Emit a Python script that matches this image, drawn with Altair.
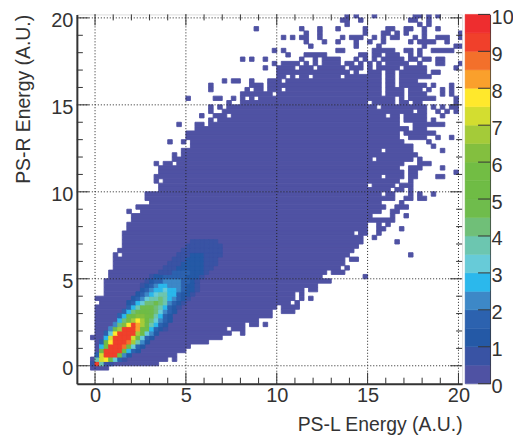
import altair as alt
import pandas as pd

alt.data_transformers.disable_max_rows()

BAND_COLORS = ["#4F52A3", "#3953A4", "#2459A6", "#2C62AF", "#3D88C7", "#2BB8EC", "#67CBD8", "#6CC6B0",
               "#70BF78", "#6FBC4C", "#6FBC45", "#72BD44", "#83BF3F", "#A4CB39", "#D3DD30", "#FFE82C",
               "#FAA02C", "#F3702B", "#F0402B", "#EE2D2F"]
BAND_EDGES = [0.5 * k for k in range(1, 20)]
X_MAJOR = [0, 5, 10, 15, 20]
Y_MAJOR = [0, 5, 10, 15, 20]
X_MINOR = [k for k in range(0, 21) if k % 5]
Y_MINOR = [k for k in range(0, 21) if k % 5]
BAR_TICKS = list(range(0, 11))
BIN = 0.25

# occupied histogram bins of the lowest band: row index -> inclusive column runs
sparse_top = {
    80: [(55,55),(57,57),(61,61),(70,71),(73,73),(75,75)],
    79: [(54,55),(58,58),(69,70),(73,73)],
    78: [(55,55),(71,71),(73,73)],
    77: [(35,35),(45,45),(49,49),(53,53),(59,59),(64,65),(68,69),(72,72),(75,75)],
    76: [(46,46),(49,49),(59,59),(63,64),(66,66),(68,68),(72,72),(80,80)],
    75: [(41,41),(43,43),(45,46),(49,49),(54,54),(56,58),(61,61),(63,63),(65,66),(70,70),(72,72),(75,77),(80,80)],
    74: [(46,46),(50,50),(53,53),(57,57),(60,60),(63,63),(69,69),(71,74),(77,77)],
    73: [(47,47),(57,57),(62,62),(72,72),(79,80)],
    72: [(39,39),(41,41),(53,54),(61,65),(68,69),(71,71),(74,78)],
    71: [(42,42),(46,50),(58,59),(61,62),(64,66),(69,69),(71,71)],
    70: [(32,32),(34,34),(37,37),(45,45),(48,48),(50,53),(57,57),(59,59),(61,61),(63,67),(69,70),(72,73),(75,76)],
    69: [(39,39),(41,44),(46,46),(48,48),(50,53),(55,56),(58,58),(60,60),(62,62),(64,68),(71,71),(75,76),(80,80)],
    68: [(37,37),(40,43),(45,47),(49,54),(56,58),(60,60),(62,66),(68,72),(79,79)],
    67: [(40,55),(57,57),(60,62),(64,65),(67,72),(74,75)],
    66: [(40,41),(43,43),(45,46),(48,53),(55,62),(64,65),(67,73)],
    65: [(28,28),(30,31),(34,34),(38,40),(42,62),(64,65),(67,70)],
}
sparse_upper = {
    64: [(25,25),(34,36),(38,62),(64,65),(67,72),(74,74),(78,78)],
    63: [(25,25),(33,33),(35,36),(38,40),(42,62),(64,67),(69,71),(73,73),(76,76),(78,78)],
    62: [(32,38),(40,62),(64,67),(69,72),(76,76),(78,78)],
    61: [(20,20),(26,27),(30,30),(32,32),(34,34),(36,65),(67,67),(69,74),(79,79)],
    60: [(29,29),(32,59),(61,65),(67,68),(70,71),(79,79)],
    59: [(25,25),(27,27),(29,61),(63,72),(74,74),(76,76),(78,79)],
    58: [(25,25),(28,69),(71,72),(75,75),(77,77),(79,79)],
    57: [(23,23),(26,28),(30,63),(65,66),(68,72),(76,76)],
    56: [(25,25),(27,66),(68,72),(74,74)],
    55: [(18,18),(22,23),(25,66),(70,76)],
    54: [(22,68),(70,72)],
    53: [(20,66),(68,74)],
    52: [(20,66),(69,72),(75,75),(78,78)],
    51: [(16,16),(19,19),(21,67),(73,73)],
    50: [(21,69),(74,74)],
    49: [(19,62),(64,69),(76,76)],
    48: [(17,17),(19,70)],
    47: [(17,60),(62,69),(71,71)],
    46: [(13,13),(15,16),(18,67),(71,73)],
    45: [(14,66),(69,71),(76,76)],
    44: [(14,67),(69,70),(79,79)],
    43: [(13,62),(64,67),(69,70),(75,76)],
    42: [(13,13),(15,66),(69,69)],
    41: [(14,59),(61,65),(67,69)],
    40: [(14,64),(66,67),(69,69)],
}
body_rows = {
    39: [(11,62),(64,65),(69,69),(71,71),(74,74)],
    38: [(11,65),(68,69),(71,72)],
    37: [(12,62),(67,67)],
    36: [(9,63),(66,68)],
    35: [(7,7),(10,62),(65,66)],
    34: [(8,60),(65,65),(68,68)],
    33: [(8,65)],
    32: [(7,59),(62,62),(64,64)],
    31: [(7,59),(62,63),(67,67)],
    30: [(6,56),(58,59),(62,62)],
    29: [(6,58),(61,61)],
    28: [(6,58),(66,66)],
    27: [(6,57)],
    26: [(5,56)],
    25: [(4,4),(6,55),(69,69)],
    24: [(4,54),(56,57)],
    23: [(4,54)],
    22: [(4,53),(55,55)],
    21: [(3,50),(52,54)],
    20: [(3,49),(59,59)],
}
foot_rows = {
    19: [(2,51)],
    18: [(2,48)],
    17: [(2,45),(47,48)],
    16: [(2,43),(45,45)],
    15: [(0,43),(45,45),(47,47)],
    14: [(1,42),(44,44)],
    13: [(0,39),(41,44)],
    12: [(0,38),(41,43)],
    11: [(0,38)],
    10: [(0,35)],
    9: [(0,32),(34,35),(37,37)],
    8: [(0,28),(30,32)],
    7: [(0,29),(32,32)],
    6: [(-1,27)],
    5: [(0,24)],
    4: [(0,20)],
    3: [(0,19)],
    2: [(0,17)],
    1: [(-1,15),(17,17)],
    0: [(-1,13)],
    -1: [(-1,2)],
}
# ridge: row index -> (first column, band index of consecutive columns)
ridge_core = {
    0: (-1, [1,18,7,1,1]),
    1: (0, [7,14,15,10,6,3,1]),
    2: (0, [3,14,18,18,18,10,4,2]),
    3: (1, [10,18,18,18,18,10,5,3,2]),
    4: (1, [5,11,18,18,18,17,10,6,3,2]),
    5: (1, [3,10,15,18,18,18,17,13,7,4,2]),
    6: (2, [5,14,18,18,18,18,14,10,6,3,2]),
    7: (2, [3,6,15,18,18,18,18,13,10,6,4,2]),
    8: (3, [4,9,13,18,18,18,16,10,9,5,3,2,1]),
    9: (4, [4,8,12,15,18,16,13,9,7,5,3,2]),
    10: (5, [5,8,11,13,15,13,10,8,6,4,3,2]),
    11: (5, [3,5,9,10,12,12,11,9,7,5,3,2]),
    12: (6, [3,5,8,9,10,10,9,8,6,4,3,2]),
    13: (7, [3,5,7,9,9,9,8,7,5,3,2,1]),
    14: (7, [2,3,5,6,8,8,9,8,7,4,3,2,1]),
}
ridge_tail = {
    15: (8, [2,3,4,6,7,7,8,7,5,4,3,2,1]),
    16: (9, [2,3,4,5,6,7,7,5,5,3,2,2,1]),
    17: (10, [2,3,4,5,5,6,5,5,4,3,2,2,1]),
    18: (10, [1,2,3,4,5,5,4,4,4,3,2,2,1]),
    19: (11, [1,2,3,3,4,4,4,4,3,3,2,1]),
    20: (12, [1,2,2,3,3,3,3,3,2,2,2,1]),
    21: (14, [1,1,1,3,3,3,3,2,2,2,1]),
    22: (15, [1,1,1,2,2,2,2,2,2,1,1]),
    23: (16, [1,1,1,2,2,2,2,2,1,1,1]),
    24: (17, [1,1,1,2,2,2,2,1,1,1]),
    25: (18, [1,1,1,2,2,2,1,1,1,1]),
    26: (19, [1,1,1,1,1,1,1,1,1]),
    27: (20, [1,1,1,1,1,1,1,1]),
    28: (21, [1,1,1,1,1,1]),
}

rows = []
for block in (sparse_top, sparse_upper, body_rows, foot_rows):
    for j, runs in block.items():
        for a, b in runs:
            rows.append(dict(x0=a*BIN, x1=(b+1)*BIN, y0=j*BIN, y1=(j+1)*BIN, v=0.25))
for block in (ridge_core, ridge_tail):
    for j, (start, levels) in block.items():
        for k, lev in enumerate(levels):
            rows.append(dict(x0=(start+k)*BIN, x1=(start+k+1)*BIN, y0=j*BIN, y1=(j+1)*BIN, v=(lev+0.5)*0.5))
hist = pd.DataFrame(rows)
bands = pd.DataFrame(dict(y0=[k*0.5 for k in range(20)], y1=[(k+1)*0.5 for k in range(20)], v=[(k+0.5)*0.5 for k in range(20)]))

W, H = 386, 370
INK = "#333333"
FONT = "Liberation Sans"
xs = alt.Scale(domain=[-1, 20.2], nice=False, zero=False)
ys = alt.Scale(domain=[-1.03, 20.2], nice=False, zero=False)
cs = alt.Scale(type="threshold", domain=BAND_EDGES, range=BAND_COLORS)

X_AXIS = alt.Axis(values=X_MAJOR, title="PS-L Energy (A.U.)", grid=False, ticks=False,
                  domainColor=INK, domainWidth=2, labelColor=INK, labelFontSize=20, labelFont=FONT, labelPadding=2,
                  titleFont=FONT, titleFontSize=19.4, titleFontWeight="normal", titleColor=INK, titleAnchor="end", titlePadding=10)
Y_AXIS = alt.Axis(values=Y_MAJOR, title="PS-R Energy (A.U.)", grid=False, ticks=False, labelOffset=3,
                  domainColor=INK, domainWidth=2, labelColor=INK, labelFontSize=20, labelFont=FONT, labelPadding=4,
                  titleFont=FONT, titleFontSize=19.4, titleFontWeight="normal", titleColor=INK, titleAnchor="end", titlePadding=17)

heat = alt.Chart(hist).mark_rect(clip=True, strokeWidth=0.9).encode(
    x=alt.X("x0:Q", scale=xs, axis=X_AXIS),
    x2="x1:Q",
    y=alt.Y("y0:Q", scale=ys, axis=Y_AXIS),
    y2="y1:Q",
    color=alt.Color("v:Q", scale=cs, legend=None),
    stroke=alt.Stroke("v:Q", scale=cs, legend=None),
)

def vrule(values, y, y2, **mark):
    return alt.Chart(pd.DataFrame({"t": values})).mark_rule(**mark).encode(
        x=alt.X("t:Q", scale=xs, axis=X_AXIS), y=alt.value(y), y2=alt.value(y2))

def hrule(values, x, x2, **mark):
    return alt.Chart(pd.DataFrame({"t": values})).mark_rule(**mark).encode(
        y=alt.Y("t:Q", scale=ys, axis=Y_AXIS), x=alt.value(x), x2=alt.value(x2))

GRID = dict(color="#222222", strokeDash=[1, 2], strokeWidth=1)
TICK = dict(color=INK, strokeWidth=1)
main = alt.layer(
    heat,
    vrule(X_MAJOR, 0, H, **GRID), hrule(Y_MAJOR, 0, W, **GRID),
    vrule(X_MAJOR, H, H-11, **TICK), vrule(X_MINOR, H, H-6, **TICK),
    vrule(X_MAJOR, 0, 11, **TICK), vrule(X_MINOR, 0, 6, **TICK),
    hrule(Y_MAJOR, 0, 12, **TICK), hrule(Y_MINOR, 0, 6, **TICK),
    hrule(Y_MAJOR, W, W-12, **TICK), hrule(Y_MINOR, W, W-6, **TICK),
).properties(width=W, height=H)

bys = alt.Scale(domain=[0, 10], nice=False, zero=False)
BAR_AXIS = alt.Axis(orient="right", values=BAR_TICKS, title=None, ticks=False, grid=False, labelOffset=3,
                    domainColor=INK, domainWidth=1, labelColor=INK, labelFontSize=20, labelFont=FONT, labelPadding=1)
bar_rect = alt.Chart(bands).mark_rect(strokeWidth=0.5).encode(
    x=alt.value(0), x2=alt.value(25),
    y=alt.Y("y0:Q", scale=bys, axis=BAR_AXIS),
    y2="y1:Q",
    color=alt.Color("v:Q", scale=cs, legend=None),
    stroke=alt.Stroke("v:Q", scale=cs, legend=None),
)
bar_ticks = alt.Chart(pd.DataFrame({"t": BAR_TICKS})).mark_rule(**TICK).encode(
    y=alt.Y("t:Q", scale=bys, axis=BAR_AXIS), x=alt.value(13), x2=alt.value(25))
bar = alt.layer(bar_rect, bar_ticks).properties(width=25, height=H)

chart = alt.hconcat(main, bar, spacing=3, bounds="flush").configure_view(stroke=INK, strokeWidth=1).configure(
    background="white").properties(padding={"left": 5, "top": -2, "right": -1, "bottom": 0})
chart.save("out.html", embed_options={"renderer": "svg", "actions": False})
